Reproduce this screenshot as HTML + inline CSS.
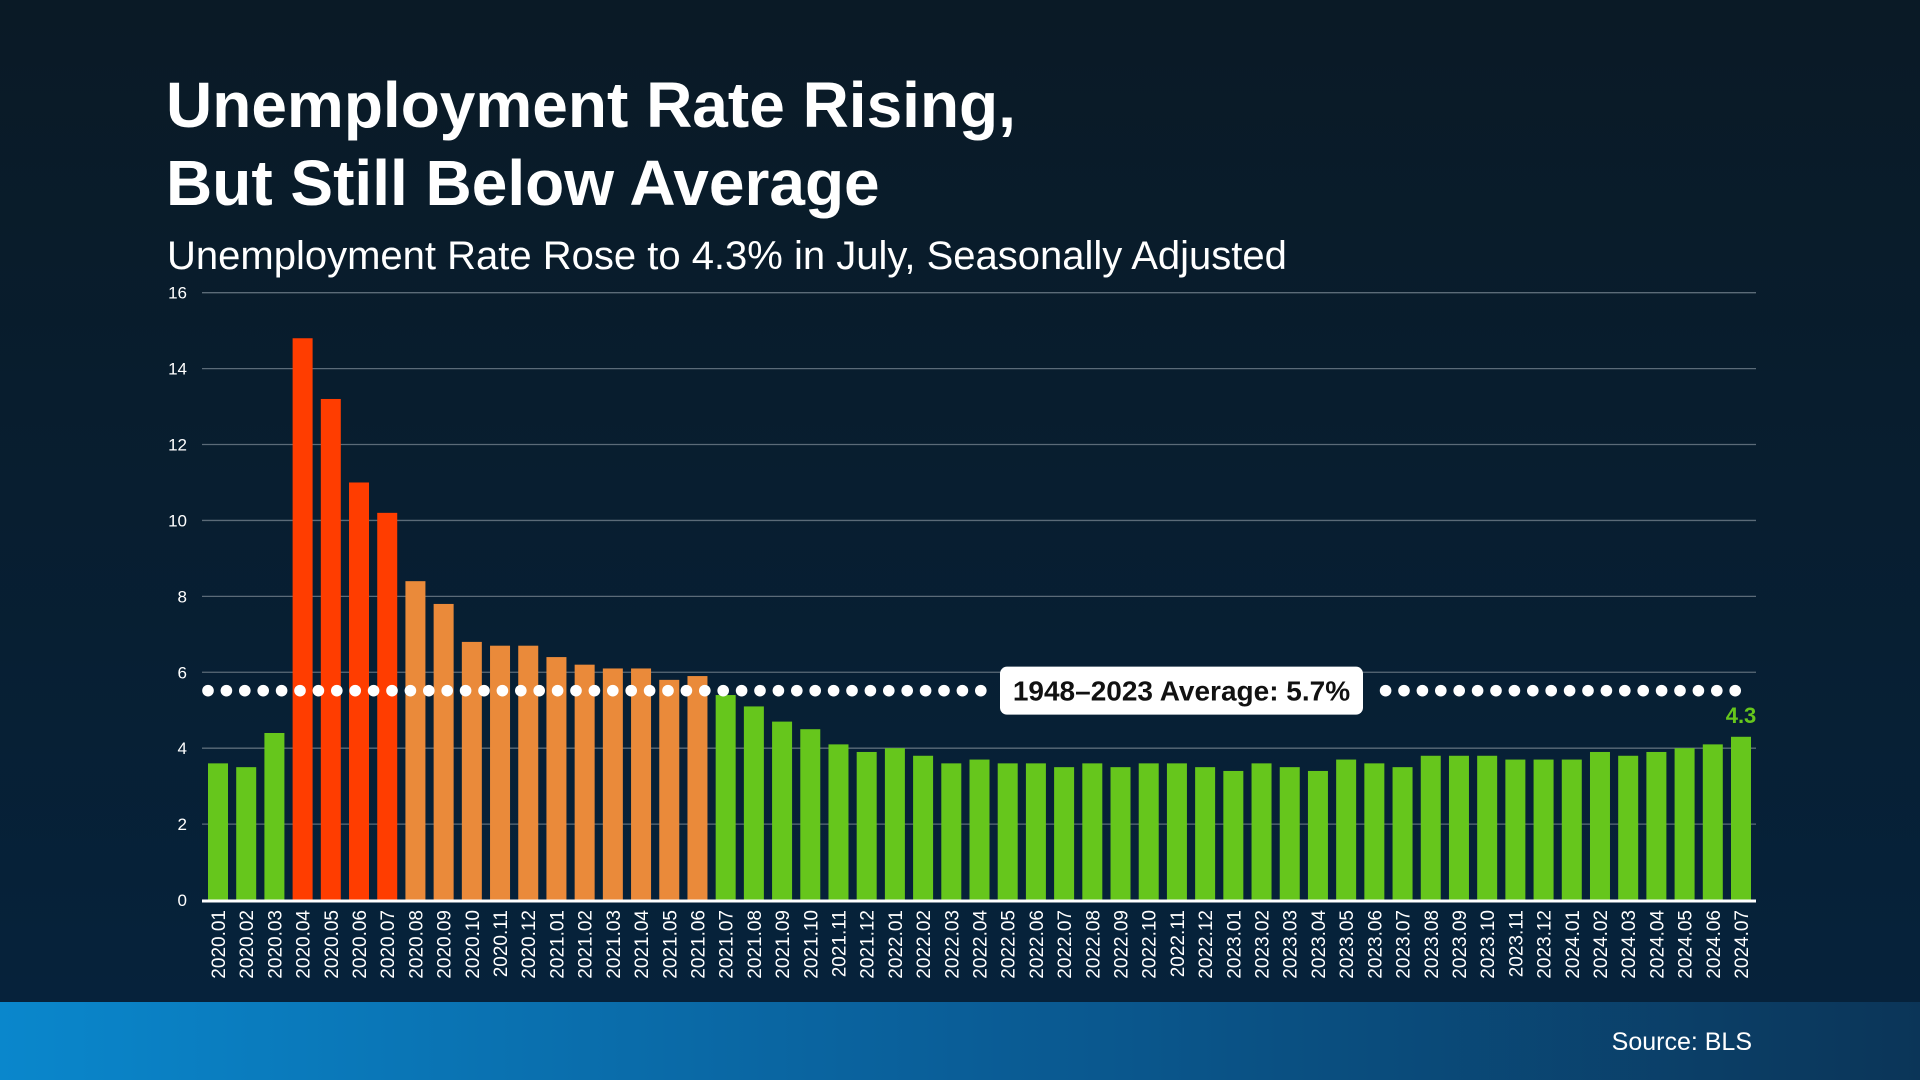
<!DOCTYPE html>
<html><head><meta charset="utf-8">
<style>
html,body{margin:0;padding:0;width:1920px;height:1080px;overflow:hidden;font-family:"Liberation Sans",Arial,sans-serif}
body{background:linear-gradient(180deg,#0a1a26 0%,#071f33 60%,#06233d 100%);position:relative}
#title{position:absolute;left:166px;top:66px;color:#fff;font-weight:bold;font-size:64px;line-height:78px;margin:0}
#subtitle{position:absolute;left:167px;top:234px;color:#fff;font-size:40px;margin:0}
#band{position:absolute;left:0;top:1002px;width:1920px;height:78px;background:linear-gradient(90deg,#0a87cc 0%,#0a5e98 50%,#0b3558 100%)}
#source{position:absolute;right:168px;top:26px;color:#fff;font-size:25px}
svg{position:absolute;left:0;top:0}
</style></head>
<body>
<h1 id="title">Unemployment Rate Rising,<br>But Still Below Average</h1>
<p id="subtitle">Unemployment Rate Rose to 4.3% in July, Seasonally Adjusted</p>
<div id="band"><span id="source">Source: BLS</span></div>
<svg id="chart" width="1920" height="1002"></svg>
<script>
const categories=["2020.01","2020.02","2020.03","2020.04","2020.05","2020.06","2020.07","2020.08","2020.09","2020.10","2020.11","2020.12",
"2021.01","2021.02","2021.03","2021.04","2021.05","2021.06","2021.07","2021.08","2021.09","2021.10","2021.11","2021.12",
"2022.01","2022.02","2022.03","2022.04","2022.05","2022.06","2022.07","2022.08","2022.09","2022.10","2022.11","2022.12",
"2023.01","2023.02","2023.03","2023.04","2023.05","2023.06","2023.07","2023.08","2023.09","2023.10","2023.11","2023.12",
"2024.01","2024.02","2024.03","2024.04","2024.05","2024.06","2024.07"];
const values=[3.6,3.5,4.4,14.8,13.2,11.0,10.2,8.4,7.8,6.8,6.7,6.7,
6.4,6.2,6.1,6.1,5.8,5.9,5.4,5.1,4.7,4.5,4.1,3.9,
4.0,3.8,3.6,3.7,3.6,3.6,3.5,3.6,3.5,3.6,3.6,3.5,
3.4,3.6,3.5,3.4,3.7,3.6,3.5,3.8,3.8,3.8,3.7,3.7,
3.7,3.9,3.8,3.9,4.0,4.1,4.3];
const yTicks=[0,2,4,6,8,10,12,14,16];
const averageValue=5.7;
const averageLabel="1948–2023 Average: 5.7%";

const NS="http://www.w3.org/2000/svg";
const svg=document.getElementById('chart');
const X0=202,X1=1756,Y0=900,Y16=292.7;
const step=(1741-218)/(categories.length-1);
const y=v=>Y0-(v/16)*(Y0-Y16);
const x=i=>218+i*step;
function mk(t,a){const e=document.createElementNS(NS,t);for(const k in a)e.setAttribute(k,a[k]);svg.appendChild(e);return e;}

yTicks.forEach(t=>{
  if(t>0){const g=mk('line',{x1:X0,x2:X1,y1:y(t),y2:y(t),stroke:'#5b6b78','stroke-width':1.3});
  
  }
  const l=mk('text',{x:187,y:y(t)+6,fill:'#fff','font-size':17,'text-anchor':'end','font-family':'Liberation Sans'});
  l.textContent=t;
  
  
});

values.forEach((v,i)=>{
  let c='#66c61c';
  if(i>=3&&i<=6)c='#ff3d00';else if(i>=7&&i<=17)c='#ea8a3a';
  const b=mk('rect',{x:x(i)-10,y:y(v),width:20,height:Y0-y(v),fill:c});
  
  
  const l=mk('text',{transform:`translate(${x(i)+7},910) rotate(-90)`,fill:'#fff','font-size':19,'text-anchor':'end','font-family':'Liberation Sans'});
  l.textContent=categories[i];
  
  
});

const ax=mk('line',{x1:X0,x2:X1,y1:Y0+1,y2:Y0+1,stroke:'#fff','stroke-width':3});



const ay=y(averageValue)+7;
for(let dx=208;dx<=1740;dx+=18.4){
  if(dx>995&&dx<1368)continue;
  const d=mk('circle',{cx:dx,cy:ay,r:5.8,fill:'#fff'});
  
  
}
const box=mk('rect',{x:1000,y:ay-24,width:363,height:48,rx:7,fill:'#fff'});


const bt=mk('text',{x:1181.5,y:ay+10,fill:'#111','font-size':28,'font-weight':'bold','text-anchor':'middle','font-family':'Liberation Sans'});
bt.textContent=averageLabel;



const last=values.length-1;
const vl=mk('text',{x:x(last),y:y(values[last])-14,fill:'#66c61c','font-size':22,'font-weight':'bold','text-anchor':'middle','font-family':'Liberation Sans'});
vl.textContent=values[last].toFixed(1);


</script>
</body></html>
